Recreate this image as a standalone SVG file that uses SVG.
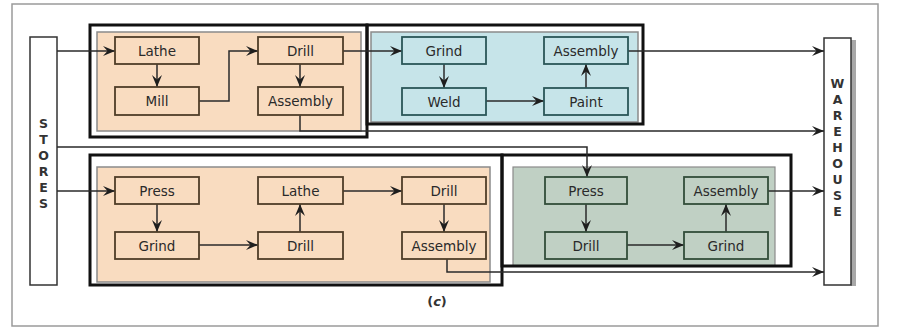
<svg xmlns="http://www.w3.org/2000/svg" width="900" height="328" viewBox="0 0 900 328">
<style>
.frame{fill:#fff;stroke:#9a9a9a;stroke-width:1.5}
.outer{fill:none;stroke:#111;stroke-width:3}
.inner{stroke:#8a8a8a;stroke-width:1.5}
.peach{fill:#f9dcc0}
.blue{fill:#c6e4e9}
.green{fill:#c0d0c4}
.np{fill:#f9dcc0;stroke:#4f3d28;stroke-width:1.8}
.nb{fill:#c6e4e9;stroke:#2a5658;stroke-width:1.8}
.ng{fill:#c0d0c4;stroke:#324d3a;stroke-width:1.8}
.lbl{font-family:"DejaVu Sans",sans-serif;font-size:13.5px;fill:#2a2a2a;text-anchor:middle}
.side{font-family:"DejaVu Sans",sans-serif;font-size:12.5px;font-weight:bold;fill:#333;text-anchor:middle}
.end{fill:#fff;stroke:#333;stroke-width:1.5}
.c{fill:none;stroke:#2a2a2a;stroke-width:1.5}
</style>
<defs>
<marker id="ah" markerUnits="userSpaceOnUse" markerWidth="13" markerHeight="11" refX="12" refY="5.5" orient="auto">
<path d="M0,0.5 L12,5.5 L0,10.5 L4.5,5.5 z" fill="#1e1e1e"/>
</marker>
</defs>
<rect class="frame" x="12" y="4" width="866" height="322"/>

<g id="stores">
<rect class="end" x="30" y="37" width="27" height="248"/>
<text class="side" x="43.5" y="128">S</text>
<text class="side" x="43.5" y="144">T</text>
<text class="side" x="43.5" y="160">O</text>
<text class="side" x="43.5" y="176">R</text>
<text class="side" x="43.5" y="192">E</text>
<text class="side" x="43.5" y="208">S</text>
</g>

<g id="warehouse">
<rect x="851" y="40" width="5" height="246" fill="#a8a8a8"/>
<rect class="end" x="824" y="38" width="27" height="247"/>
<text class="side" x="837.5" y="88">W</text>
<text class="side" x="837.5" y="104">A</text>
<text class="side" x="837.5" y="120">R</text>
<text class="side" x="837.5" y="136">E</text>
<text class="side" x="837.5" y="152">H</text>
<text class="side" x="837.5" y="168">O</text>
<text class="side" x="837.5" y="184">U</text>
<text class="side" x="837.5" y="200">S</text>
<text class="side" x="837.5" y="216">E</text>
</g>

<g id="group-top-left">
<rect class="inner peach" x="97" y="32" width="264" height="99"/>
<rect class="outer" x="90" y="25" width="277" height="112"/>
</g>
<g id="group-top-right">
<rect class="inner blue" x="371" y="32" width="267" height="90"/>
<rect class="outer" x="367" y="25" width="276" height="99"/>
</g>
<g id="group-bottom-left">
<rect class="inner peach" x="97" y="167" width="393" height="115"/>
<rect class="outer" x="90" y="155" width="412" height="130"/>
</g>
<g id="group-bottom-right">
<rect class="green" x="513" y="167" width="262" height="99" stroke="#8a8a8a" stroke-width="1.2"/>
<rect class="outer" x="502" y="155" width="289" height="111"/>
</g>

<g id="connectors">
<path class="c" d="M57,51 H115" marker-end="url(#ah)"/>
<path class="c" d="M157,64 V87" marker-end="url(#ah)"/>
<path class="c" d="M199,101 H229 V51 H258" marker-end="url(#ah)"/>
<path class="c" d="M300,64 V87" marker-end="url(#ah)"/>
<path class="c" d="M343,51 H402" marker-end="url(#ah)"/>
<path class="c" d="M444,64 V88" marker-end="url(#ah)"/>
<path class="c" d="M486,101 H544" marker-end="url(#ah)"/>
<path class="c" d="M586,88 V64" marker-end="url(#ah)"/>
<path class="c" d="M628,51 H824" marker-end="url(#ah)"/>
<path class="c" d="M300,115 V131 H824" marker-end="url(#ah)"/>
<path class="c" d="M57,147 H587 V177" marker-end="url(#ah)"/>
<path class="c" d="M57,191 H115" marker-end="url(#ah)"/>
<path class="c" d="M157,204 V232" marker-end="url(#ah)"/>
<path class="c" d="M199,245 H258" marker-end="url(#ah)"/>
<path class="c" d="M300,232 V204" marker-end="url(#ah)"/>
<path class="c" d="M343,191 H402" marker-end="url(#ah)"/>
<path class="c" d="M444,204 V232" marker-end="url(#ah)"/>
<path class="c" d="M447,259 V272 H824" marker-end="url(#ah)"/>
<path class="c" d="M586,204 V232" marker-end="url(#ah)"/>
<path class="c" d="M627,245 H684" marker-end="url(#ah)"/>
<path class="c" d="M726,232 V204" marker-end="url(#ah)"/>
<path class="c" d="M768,191 H824" marker-end="url(#ah)"/>
</g>

<g id="tl-lathe"><rect class="np" x="115" y="37" width="84" height="27"/><text class="lbl" x="157" y="55.5">Lathe</text></g>
<g id="tl-mill"><rect class="np" x="115" y="87" width="84" height="28"/><text class="lbl" x="157" y="106">Mill</text></g>
<g id="tl-drill"><rect class="np" x="258" y="37" width="85" height="27"/><text class="lbl" x="300.5" y="55.5">Drill</text></g>
<g id="tl-assembly"><rect class="np" x="258" y="87" width="85" height="28"/><text class="lbl" x="300.5" y="106">Assembly</text></g>

<g id="tr-grind"><rect class="nb" x="402" y="37" width="84" height="27"/><text class="lbl" x="444" y="55.5">Grind</text></g>
<g id="tr-weld"><rect class="nb" x="402" y="88" width="84" height="27"/><text class="lbl" x="444" y="106.5">Weld</text></g>
<g id="tr-assembly"><rect class="nb" x="544" y="37" width="84" height="27"/><text class="lbl" x="586" y="55.5">Assembly</text></g>
<g id="tr-paint"><rect class="nb" x="544" y="88" width="84" height="27"/><text class="lbl" x="586" y="106.5">Paint</text></g>

<g id="bl-press"><rect class="np" x="115" y="177" width="84" height="27"/><text class="lbl" x="157" y="195.5">Press</text></g>
<g id="bl-grind"><rect class="np" x="115" y="232" width="84" height="27"/><text class="lbl" x="157" y="250.5">Grind</text></g>
<g id="bl-lathe"><rect class="np" x="258" y="177" width="85" height="27"/><text class="lbl" x="300.5" y="195.5">Lathe</text></g>
<g id="bl-drill"><rect class="np" x="258" y="232" width="85" height="27"/><text class="lbl" x="300.5" y="250.5">Drill</text></g>
<g id="bl-drill2"><rect class="np" x="402" y="177" width="84" height="27"/><text class="lbl" x="444" y="195.5">Drill</text></g>
<g id="bl-assembly"><rect class="np" x="402" y="232" width="84" height="27"/><text class="lbl" x="444" y="250.5">Assembly</text></g>

<g id="br-press"><rect class="ng" x="545" y="177" width="82" height="27"/><text class="lbl" x="586" y="195.5">Press</text></g>
<g id="br-drill"><rect class="ng" x="545" y="232" width="82" height="27"/><text class="lbl" x="586" y="250.5">Drill</text></g>
<g id="br-assembly"><rect class="ng" x="684" y="177" width="84" height="27"/><text class="lbl" x="726" y="195.5">Assembly</text></g>
<g id="br-grind"><rect class="ng" x="684" y="232" width="84" height="27"/><text class="lbl" x="726" y="250.5">Grind</text></g>

<text x="437" y="306" font-family="DejaVu Sans, sans-serif" font-size="13px" font-weight="bold" fill="#333" text-anchor="middle">(<tspan font-style="italic">c</tspan>)</text>
</svg>
